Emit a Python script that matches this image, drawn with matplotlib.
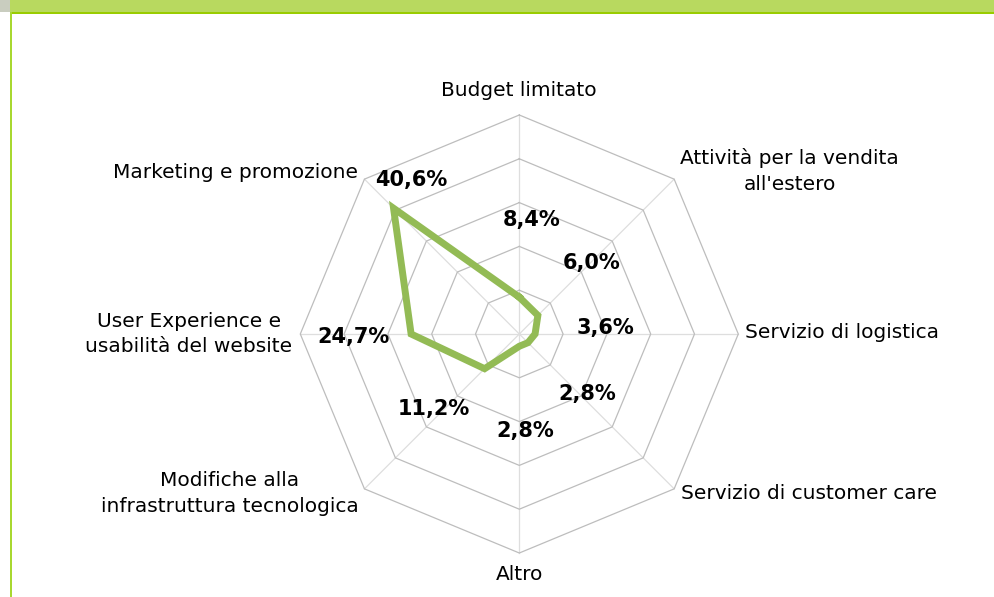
import numpy as np
import matplotlib
matplotlib.use("Agg")
import matplotlib.pyplot as plt
from matplotlib.patches import Rectangle

categories = ["Budget limitato", "Attività per la vendita\nall'estero", "Servizio di logistica",
              "Servizio di customer care", "Altro", "Modifiche alla\ninfrastruttura tecnologica",
              "User Experience e\nusabilità del website", "Marketing e promozione"]
values = [8.4, 6.0, 3.6, 2.8, 2.8, 11.2, 24.7, 40.6]
value_labels = ["8,4%", "6,0%", "3,6%", "2,8%", "2,8%", "11,2%", "24,7%", "40,6%"]
rings = [10, 20, 30, 40, 50]

# label offsets (pixels) relative to data points / axis ends
val_offsets = [(12, 77), (54, 52), (70, 6), (59, -51), (6, -85), (-51, -40), (-58, -3), (18, 28)]
cat_offsets = [(0, 24, "center"), (6, 8, "left"), (7, 2, "left"), (7, -5, "left"),
               (0, -22, "center"), (-6, -5, "right"), (-8, 0, "right"), (-6, 7, "right")]

plt.rcParams['font.family'] = ['DejaVu Sans']

fig = plt.figure(figsize=(9.94, 5.97), dpi=100)
fig.patch.set_facecolor("white")
# frame decorations
fig.patches.append(Rectangle((0, 1 - 12/597), 1, 12/597, transform=fig.transFigure,
                             facecolor="#b8d95f", edgecolor="none", zorder=0))
fig.patches.append(Rectangle((0, 1 - 12/597), 10/994, 12/597, transform=fig.transFigure,
                             facecolor="#c9cdbf", edgecolor="none", zorder=1))
fig.patches.append(Rectangle((10/994, 1 - 13.5/597), 1, 1.8/597, transform=fig.transFigure,
                             facecolor="#99cc00", edgecolor="none", zorder=1))
fig.patches.append(Rectangle((10/994, 0), 1.6/994, 1 - 12/597, transform=fig.transFigure,
                             facecolor="#a8d830", edgecolor="none", zorder=1))

L = 60
ax = fig.add_axes([256.5/994, 0.2/597, 525.6/994, 525.6/597])
ax.set_xlim(-L, L)
ax.set_ylim(-L, L)
ax.axis("off")

n = len(categories)
theta = np.arange(n) * 2 * np.pi / n
sx, cy = np.sin(theta), np.cos(theta)

# spokes
for i in range(n):
    ax.plot([0, rings[-1] * sx[i]], [0, rings[-1] * cy[i]], color="#dedede", lw=0.9, zorder=1)
# rings
for r in rings:
    xs = np.append(r * sx, r * sx[0])
    ys = np.append(r * cy, r * cy[0])
    ax.plot(xs, ys, color="#bdbdbd", lw=0.9, zorder=2)

v = np.array(values)
ax.plot(np.append(v * sx, v[0] * sx[0]), np.append(v * cy, v[0] * cy[0]),
        color="#93bb55", lw=5, solid_joinstyle="miter", zorder=3)

for i in range(n):
    dx, dy = val_offsets[i]
    ax.annotate(value_labels[i], xy=(v[i] * sx[i], v[i] * cy[i]), xytext=(dx, dy),
                textcoords="offset pixels", ha="center", va="center",
                fontsize=15, fontweight="bold", color="black", annotation_clip=False, zorder=4)
    dx, dy, ha = cat_offsets[i]
    ax.annotate(categories[i], xy=(rings[-1] * sx[i], rings[-1] * cy[i]), xytext=(dx, dy),
                textcoords="offset pixels", ha=ha, va="center", multialignment="center",
                fontsize=14.5, color="black", annotation_clip=False, linespacing=1.45, zorder=4)

fig.savefig("out.png", dpi=100)
